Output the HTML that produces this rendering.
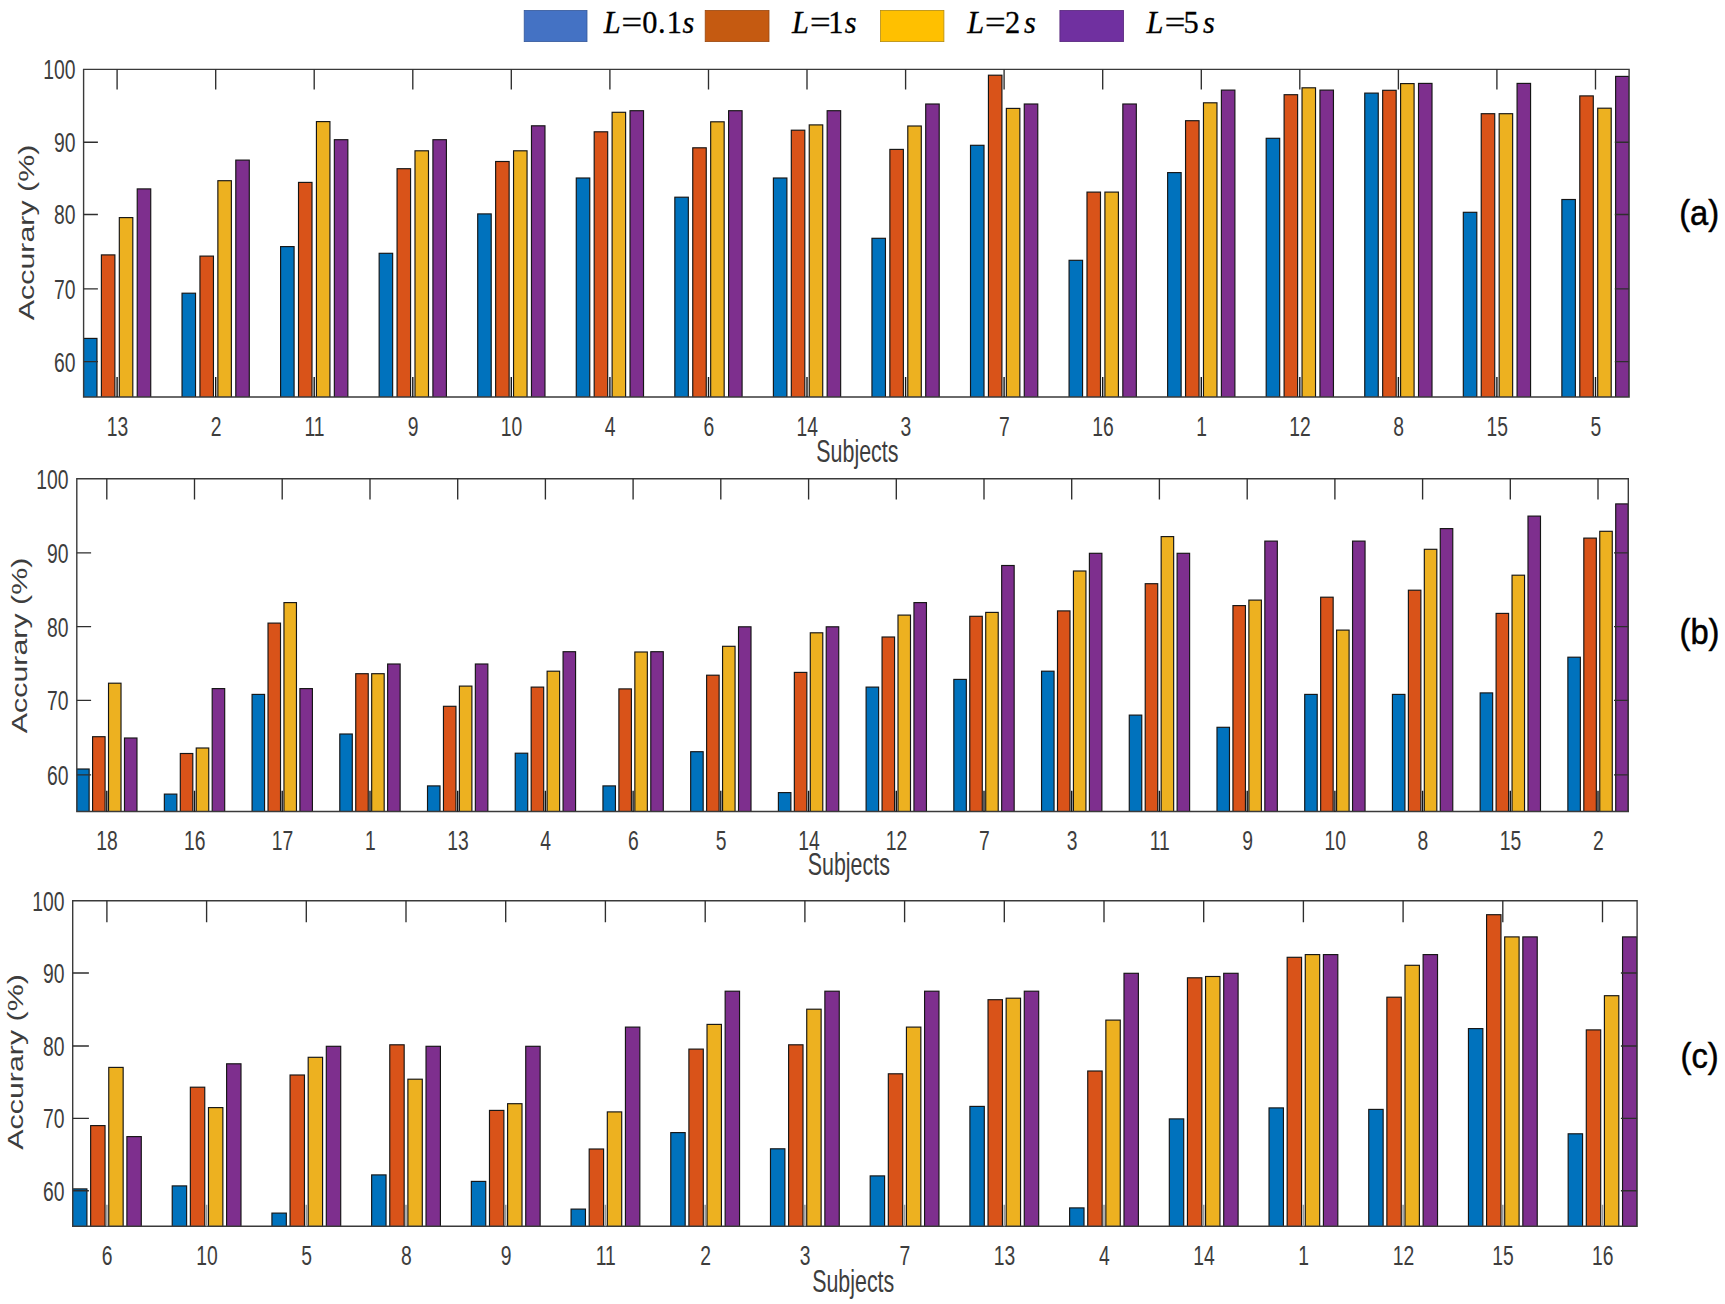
<!DOCTYPE html>
<html lang="en"><head><meta charset="utf-8"><title>Accuracy per subject</title>
<style>html,body{margin:0;padding:0;background:#fff}svg{display:block}.t{font-family:"Liberation Sans",Arial,Helvetica,sans-serif;fill:#3d3d3d}.s{font-family:"Liberation Serif","Times New Roman",Times,serif;fill:#000}.g{font-family:"Liberation Sans",Arial,sans-serif;fill:#000}</style></head><body>
<svg width="1725" height="1304" viewBox="0 0 1725 1304">
<rect width="1725" height="1304" fill="#fff"/>
<rect x="524.2" y="10.4" width="62.8" height="31.2" fill="#4472C4" stroke="#35589a" stroke-width="0.8"/>
<rect x="705.2" y="10.4" width="63.8" height="31.2" fill="#C55A11" stroke="#9a480f" stroke-width="0.8"/>
<rect x="880.6" y="10.4" width="63.3" height="31.2" fill="#FFC000" stroke="#b38a10" stroke-width="0.8"/>
<rect x="1059.9" y="10.4" width="63.7" height="31.2" fill="#7030A0" stroke="#56257b" stroke-width="0.8"/>
<text class="s" font-size="32.0" stroke="#000" stroke-width="0.3" transform="scale(0.95 1)" y="33.0"><tspan x="635.5" font-style="italic">L</tspan><tspan x="654.2" textLength="21.7" lengthAdjust="spacingAndGlyphs">=</tspan><tspan x="676.0">0</tspan><tspan x="692.7">.</tspan><tspan x="701.9">1</tspan><tspan x="718.5" font-style="italic">s</tspan></text>
<text class="s" font-size="32.0" stroke="#000" stroke-width="0.3" transform="scale(0.95 1)" y="33.0"><tspan x="833.6" font-style="italic">L</tspan><tspan x="852.7" textLength="21.7" lengthAdjust="spacingAndGlyphs">=</tspan><tspan x="871.8">1</tspan><tspan x="889.1" font-style="italic">s</tspan></text>
<text class="s" font-size="32.0" stroke="#000" stroke-width="0.3" transform="scale(0.95 1)" y="33.0"><tspan x="1018.2" font-style="italic">L</tspan><tspan x="1036.9" textLength="21.7" lengthAdjust="spacingAndGlyphs">=</tspan><tspan x="1057.8">2</tspan><tspan x="1078.0" font-style="italic">s</tspan></text>
<text class="s" font-size="32.0" stroke="#000" stroke-width="0.3" transform="scale(0.95 1)" y="33.0"><tspan x="1206.9" font-style="italic">L</tspan><tspan x="1226.0" textLength="21.7" lengthAdjust="spacingAndGlyphs">=</tspan><tspan x="1245.8">5</tspan><tspan x="1266.3" font-style="italic">s</tspan></text>
<clipPath id="cpa"><rect x="83.6" y="67.4" width="1545.5" height="329.6"/></clipPath>
<g clip-path="url(#cpa)" stroke="#151515" stroke-width="1.15">
<rect x="83.47" y="338.4" width="13.50" height="64.1" fill="#0072BD"/>
<rect x="101.39" y="254.9" width="13.50" height="147.6" fill="#D95319"/>
<rect x="119.31" y="217.6" width="13.50" height="184.9" fill="#EDB120"/>
<rect x="137.23" y="188.9" width="13.50" height="213.6" fill="#7E2F8E"/>
<rect x="182.03" y="293.2" width="13.50" height="109.3" fill="#0072BD"/>
<rect x="199.95" y="256.1" width="13.50" height="146.4" fill="#D95319"/>
<rect x="217.87" y="180.7" width="13.50" height="221.8" fill="#EDB120"/>
<rect x="235.79" y="160.1" width="13.50" height="242.4" fill="#7E2F8E"/>
<rect x="280.59" y="246.6" width="13.50" height="155.9" fill="#0072BD"/>
<rect x="298.51" y="182.4" width="13.50" height="220.1" fill="#D95319"/>
<rect x="316.43" y="121.6" width="13.50" height="280.9" fill="#EDB120"/>
<rect x="334.35" y="139.7" width="13.50" height="262.8" fill="#7E2F8E"/>
<rect x="379.15" y="253.3" width="13.50" height="149.2" fill="#0072BD"/>
<rect x="397.07" y="168.7" width="13.50" height="233.8" fill="#D95319"/>
<rect x="414.99" y="150.8" width="13.50" height="251.7" fill="#EDB120"/>
<rect x="432.91" y="139.7" width="13.50" height="262.8" fill="#7E2F8E"/>
<rect x="477.71" y="213.9" width="13.50" height="188.6" fill="#0072BD"/>
<rect x="495.63" y="161.5" width="13.50" height="241.0" fill="#D95319"/>
<rect x="513.55" y="150.8" width="13.50" height="251.7" fill="#EDB120"/>
<rect x="531.47" y="125.8" width="13.50" height="276.7" fill="#7E2F8E"/>
<rect x="576.27" y="178.0" width="13.50" height="224.5" fill="#0072BD"/>
<rect x="594.19" y="131.8" width="13.50" height="270.7" fill="#D95319"/>
<rect x="612.11" y="112.3" width="13.50" height="290.2" fill="#EDB120"/>
<rect x="630.03" y="110.7" width="13.50" height="291.8" fill="#7E2F8E"/>
<rect x="674.83" y="197.2" width="13.50" height="205.3" fill="#0072BD"/>
<rect x="692.75" y="147.8" width="13.50" height="254.7" fill="#D95319"/>
<rect x="710.67" y="121.8" width="13.50" height="280.7" fill="#EDB120"/>
<rect x="728.59" y="110.7" width="13.50" height="291.8" fill="#7E2F8E"/>
<rect x="773.39" y="178.0" width="13.50" height="224.5" fill="#0072BD"/>
<rect x="791.31" y="130.2" width="13.50" height="272.3" fill="#D95319"/>
<rect x="809.23" y="124.9" width="13.50" height="277.6" fill="#EDB120"/>
<rect x="827.15" y="110.7" width="13.50" height="291.8" fill="#7E2F8E"/>
<rect x="871.95" y="238.3" width="13.50" height="164.2" fill="#0072BD"/>
<rect x="889.87" y="149.4" width="13.50" height="253.1" fill="#D95319"/>
<rect x="907.79" y="126.0" width="13.50" height="276.5" fill="#EDB120"/>
<rect x="925.71" y="104.0" width="13.50" height="298.5" fill="#7E2F8E"/>
<rect x="970.51" y="145.3" width="13.50" height="257.2" fill="#0072BD"/>
<rect x="988.43" y="75.2" width="13.50" height="327.3" fill="#D95319"/>
<rect x="1006.35" y="108.4" width="13.50" height="294.1" fill="#EDB120"/>
<rect x="1024.27" y="104.0" width="13.50" height="298.5" fill="#7E2F8E"/>
<rect x="1069.07" y="260.3" width="13.50" height="142.2" fill="#0072BD"/>
<rect x="1086.99" y="192.1" width="13.50" height="210.4" fill="#D95319"/>
<rect x="1104.91" y="192.1" width="13.50" height="210.4" fill="#EDB120"/>
<rect x="1122.83" y="104.0" width="13.50" height="298.5" fill="#7E2F8E"/>
<rect x="1167.63" y="172.6" width="13.50" height="229.9" fill="#0072BD"/>
<rect x="1185.55" y="120.7" width="13.50" height="281.8" fill="#D95319"/>
<rect x="1203.47" y="102.8" width="13.50" height="299.7" fill="#EDB120"/>
<rect x="1221.39" y="90.1" width="13.50" height="312.4" fill="#7E2F8E"/>
<rect x="1266.19" y="138.3" width="13.50" height="264.2" fill="#0072BD"/>
<rect x="1284.11" y="94.7" width="13.50" height="307.8" fill="#D95319"/>
<rect x="1302.03" y="87.8" width="13.50" height="314.7" fill="#EDB120"/>
<rect x="1319.95" y="90.1" width="13.50" height="312.4" fill="#7E2F8E"/>
<rect x="1364.75" y="93.1" width="13.50" height="309.4" fill="#0072BD"/>
<rect x="1382.67" y="90.3" width="13.50" height="312.2" fill="#D95319"/>
<rect x="1400.59" y="83.6" width="13.50" height="318.9" fill="#EDB120"/>
<rect x="1418.51" y="83.4" width="13.50" height="319.1" fill="#7E2F8E"/>
<rect x="1463.31" y="212.3" width="13.50" height="190.2" fill="#0072BD"/>
<rect x="1481.23" y="113.7" width="13.50" height="288.8" fill="#D95319"/>
<rect x="1499.15" y="113.7" width="13.50" height="288.8" fill="#EDB120"/>
<rect x="1517.07" y="83.4" width="13.50" height="319.1" fill="#7E2F8E"/>
<rect x="1561.87" y="199.5" width="13.50" height="203.0" fill="#0072BD"/>
<rect x="1579.79" y="95.9" width="13.50" height="306.6" fill="#D95319"/>
<rect x="1597.71" y="108.2" width="13.50" height="294.3" fill="#EDB120"/>
<rect x="1615.63" y="76.4" width="13.50" height="326.1" fill="#7E2F8E"/>
</g>
<path d="M83.6 69.4H1629.1V397.0H83.6Z" fill="none" stroke="#3a3a3a" stroke-width="1.4"/>
<path d="M117.1 69.4v20.0M215.7 69.4v20.0M314.2 69.4v20.0M412.8 69.4v20.0M511.3 69.4v20.0M609.9 69.4v20.0M708.5 69.4v20.0M807.0 69.4v20.0M905.6 69.4v20.0M1004.1 69.4v20.0M1102.7 69.4v20.0M1201.3 69.4v20.0M1299.8 69.4v20.0M1398.4 69.4v20.0M1496.9 69.4v20.0M1595.5 69.4v20.0M83.6 142.2h14.3M1629.1 142.2h-14.3M83.6 214.5h14.3M1629.1 214.5h-14.3M83.6 288.8h14.3M1629.1 288.8h-14.3M83.6 361.6h14.3M1629.1 361.6h-14.3" fill="none" stroke="#2e2e2e" stroke-width="1.35"/>
<path d="M117.1 397.0v-20.0M215.7 397.0v-20.0M314.2 397.0v-20.0M412.8 397.0v-20.0M511.3 397.0v-20.0M609.9 397.0v-20.0M708.5 397.0v-20.0M807.0 397.0v-20.0M905.6 397.0v-20.0M1004.1 397.0v-20.0M1102.7 397.0v-20.0M1201.3 397.0v-20.0M1299.8 397.0v-20.0M1398.4 397.0v-20.0M1496.9 397.0v-20.0M1595.5 397.0v-20.0" fill="none" stroke="#161616" stroke-width="1.4"/>
<text class="t" font-size="27.6" text-anchor="end" transform="translate(75.4 79.3) scale(0.700 1)">100</text>
<text class="t" font-size="27.6" text-anchor="end" transform="translate(75.4 152.1) scale(0.700 1)">90</text>
<text class="t" font-size="27.6" text-anchor="end" transform="translate(75.4 224.4) scale(0.700 1)">80</text>
<text class="t" font-size="27.6" text-anchor="end" transform="translate(75.4 298.7) scale(0.700 1)">70</text>
<text class="t" font-size="27.6" text-anchor="end" transform="translate(75.4 371.5) scale(0.700 1)">60</text>
<text class="t" font-size="27.6" text-anchor="middle" transform="translate(117.4 435.6) scale(0.700 1)">13</text>
<text class="t" font-size="27.6" text-anchor="middle" transform="translate(216.0 435.6) scale(0.700 1)">2</text>
<text class="t" font-size="27.6" text-anchor="middle" transform="translate(314.5 435.6) scale(0.700 1)">11</text>
<text class="t" font-size="27.6" text-anchor="middle" transform="translate(413.1 435.6) scale(0.700 1)">9</text>
<text class="t" font-size="27.6" text-anchor="middle" transform="translate(511.6 435.6) scale(0.700 1)">10</text>
<text class="t" font-size="27.6" text-anchor="middle" transform="translate(610.2 435.6) scale(0.700 1)">4</text>
<text class="t" font-size="27.6" text-anchor="middle" transform="translate(708.8 435.6) scale(0.700 1)">6</text>
<text class="t" font-size="27.6" text-anchor="middle" transform="translate(807.3 435.6) scale(0.700 1)">14</text>
<text class="t" font-size="27.6" text-anchor="middle" transform="translate(905.9 435.6) scale(0.700 1)">3</text>
<text class="t" font-size="27.6" text-anchor="middle" transform="translate(1004.4 435.6) scale(0.700 1)">7</text>
<text class="t" font-size="27.6" text-anchor="middle" transform="translate(1103.0 435.6) scale(0.700 1)">16</text>
<text class="t" font-size="27.6" text-anchor="middle" transform="translate(1201.6 435.6) scale(0.700 1)">1</text>
<text class="t" font-size="27.6" text-anchor="middle" transform="translate(1300.1 435.6) scale(0.700 1)">12</text>
<text class="t" font-size="27.6" text-anchor="middle" transform="translate(1398.7 435.6) scale(0.700 1)">8</text>
<text class="t" font-size="27.6" text-anchor="middle" transform="translate(1497.2 435.6) scale(0.700 1)">15</text>
<text class="t" font-size="27.6" text-anchor="middle" transform="translate(1595.8 435.6) scale(0.700 1)">5</text>
<text class="t" font-size="30.6" text-anchor="middle" transform="translate(857.4 461.8) scale(0.700 1)">Subjects</text>
<text class="t" font-size="30.4" text-anchor="middle" transform="translate(33.7 232.5) scale(0.700 1) rotate(-90)">Accurary (%)</text>
<text class="g" font-size="35.4" text-anchor="middle" stroke="#000" stroke-width="0.5" transform="translate(1699.2 224.8) scale(0.925 1)">(a)</text>
<clipPath id="cpb"><rect x="76.8" y="476.8" width="1551.5" height="334.7"/></clipPath>
<g clip-path="url(#cpb)" stroke="#151515" stroke-width="1.15">
<rect x="76.63" y="769.0" width="12.50" height="48.0" fill="#0072BD"/>
<rect x="92.58" y="736.7" width="12.50" height="80.3" fill="#D95319"/>
<rect x="108.52" y="683.2" width="12.50" height="133.8" fill="#EDB120"/>
<rect x="124.47" y="738.0" width="12.50" height="79.0" fill="#7E2F8E"/>
<rect x="164.35" y="794.1" width="12.50" height="22.9" fill="#0072BD"/>
<rect x="180.30" y="753.5" width="12.50" height="63.5" fill="#D95319"/>
<rect x="196.24" y="748.0" width="12.50" height="69.0" fill="#EDB120"/>
<rect x="212.19" y="688.6" width="12.50" height="128.4" fill="#7E2F8E"/>
<rect x="252.07" y="694.4" width="12.50" height="122.6" fill="#0072BD"/>
<rect x="268.02" y="623.1" width="12.50" height="193.9" fill="#D95319"/>
<rect x="283.96" y="602.6" width="12.50" height="214.4" fill="#EDB120"/>
<rect x="299.91" y="688.6" width="12.50" height="128.4" fill="#7E2F8E"/>
<rect x="339.79" y="734.0" width="12.50" height="83.0" fill="#0072BD"/>
<rect x="355.74" y="673.7" width="12.50" height="143.3" fill="#D95319"/>
<rect x="371.68" y="673.7" width="12.50" height="143.3" fill="#EDB120"/>
<rect x="387.63" y="664.0" width="12.50" height="153.0" fill="#7E2F8E"/>
<rect x="427.51" y="785.9" width="12.50" height="31.1" fill="#0072BD"/>
<rect x="443.46" y="706.3" width="12.50" height="110.7" fill="#D95319"/>
<rect x="459.40" y="686.1" width="12.50" height="130.9" fill="#EDB120"/>
<rect x="475.35" y="664.0" width="12.50" height="153.0" fill="#7E2F8E"/>
<rect x="515.23" y="753.2" width="12.50" height="63.8" fill="#0072BD"/>
<rect x="531.18" y="687.1" width="12.50" height="129.9" fill="#D95319"/>
<rect x="547.12" y="671.2" width="12.50" height="145.8" fill="#EDB120"/>
<rect x="563.07" y="651.7" width="12.50" height="165.3" fill="#7E2F8E"/>
<rect x="602.95" y="785.9" width="12.50" height="31.1" fill="#0072BD"/>
<rect x="618.90" y="688.9" width="12.50" height="128.1" fill="#D95319"/>
<rect x="634.84" y="652.0" width="12.50" height="165.0" fill="#EDB120"/>
<rect x="650.79" y="651.7" width="12.50" height="165.3" fill="#7E2F8E"/>
<rect x="690.67" y="751.7" width="12.50" height="65.3" fill="#0072BD"/>
<rect x="706.62" y="675.2" width="12.50" height="141.8" fill="#D95319"/>
<rect x="722.56" y="646.3" width="12.50" height="170.7" fill="#EDB120"/>
<rect x="738.51" y="626.8" width="12.50" height="190.2" fill="#7E2F8E"/>
<rect x="778.39" y="792.6" width="12.50" height="24.4" fill="#0072BD"/>
<rect x="794.34" y="672.4" width="12.50" height="144.6" fill="#D95319"/>
<rect x="810.28" y="632.8" width="12.50" height="184.2" fill="#EDB120"/>
<rect x="826.23" y="626.8" width="12.50" height="190.2" fill="#7E2F8E"/>
<rect x="866.11" y="687.1" width="12.50" height="129.9" fill="#0072BD"/>
<rect x="882.06" y="637.0" width="12.50" height="180.0" fill="#D95319"/>
<rect x="898.00" y="615.1" width="12.50" height="201.9" fill="#EDB120"/>
<rect x="913.95" y="602.6" width="12.50" height="214.4" fill="#7E2F8E"/>
<rect x="953.83" y="679.4" width="12.50" height="137.6" fill="#0072BD"/>
<rect x="969.78" y="616.3" width="12.50" height="200.7" fill="#D95319"/>
<rect x="985.72" y="612.4" width="12.50" height="204.6" fill="#EDB120"/>
<rect x="1001.67" y="565.5" width="12.50" height="251.5" fill="#7E2F8E"/>
<rect x="1041.55" y="671.2" width="12.50" height="145.8" fill="#0072BD"/>
<rect x="1057.50" y="610.9" width="12.50" height="206.1" fill="#D95319"/>
<rect x="1073.44" y="571.0" width="12.50" height="246.0" fill="#EDB120"/>
<rect x="1089.39" y="553.3" width="12.50" height="263.7" fill="#7E2F8E"/>
<rect x="1129.27" y="715.1" width="12.50" height="101.9" fill="#0072BD"/>
<rect x="1145.22" y="583.7" width="12.50" height="233.3" fill="#D95319"/>
<rect x="1161.16" y="536.6" width="12.50" height="280.4" fill="#EDB120"/>
<rect x="1177.11" y="553.3" width="12.50" height="263.7" fill="#7E2F8E"/>
<rect x="1216.99" y="727.3" width="12.50" height="89.7" fill="#0072BD"/>
<rect x="1232.94" y="605.6" width="12.50" height="211.4" fill="#D95319"/>
<rect x="1248.88" y="600.1" width="12.50" height="216.9" fill="#EDB120"/>
<rect x="1264.83" y="541.1" width="12.50" height="275.9" fill="#7E2F8E"/>
<rect x="1304.71" y="694.4" width="12.50" height="122.6" fill="#0072BD"/>
<rect x="1320.66" y="597.2" width="12.50" height="219.8" fill="#D95319"/>
<rect x="1336.60" y="630.1" width="12.50" height="186.9" fill="#EDB120"/>
<rect x="1352.55" y="541.1" width="12.50" height="275.9" fill="#7E2F8E"/>
<rect x="1392.43" y="694.4" width="12.50" height="122.6" fill="#0072BD"/>
<rect x="1408.38" y="590.2" width="12.50" height="226.8" fill="#D95319"/>
<rect x="1424.32" y="549.3" width="12.50" height="267.7" fill="#EDB120"/>
<rect x="1440.27" y="528.6" width="12.50" height="288.4" fill="#7E2F8E"/>
<rect x="1480.15" y="692.9" width="12.50" height="124.1" fill="#0072BD"/>
<rect x="1496.10" y="613.4" width="12.50" height="203.6" fill="#D95319"/>
<rect x="1512.04" y="575.2" width="12.50" height="241.8" fill="#EDB120"/>
<rect x="1527.99" y="516.1" width="12.50" height="300.9" fill="#7E2F8E"/>
<rect x="1567.87" y="657.2" width="12.50" height="159.8" fill="#0072BD"/>
<rect x="1583.82" y="538.1" width="12.50" height="278.9" fill="#D95319"/>
<rect x="1599.76" y="531.3" width="12.50" height="285.7" fill="#EDB120"/>
<rect x="1615.71" y="503.9" width="12.50" height="313.1" fill="#7E2F8E"/>
</g>
<path d="M76.8 478.8H1628.3V811.5H76.8Z" fill="none" stroke="#3a3a3a" stroke-width="1.4"/>
<path d="M106.8 478.8v20.8M194.5 478.8v20.8M282.2 478.8v20.8M370.0 478.8v20.8M457.7 478.8v20.8M545.4 478.8v20.8M633.1 478.8v20.8M720.8 478.8v20.8M808.6 478.8v20.8M896.3 478.8v20.8M984.0 478.8v20.8M1071.7 478.8v20.8M1159.4 478.8v20.8M1247.2 478.8v20.8M1334.9 478.8v20.8M1422.6 478.8v20.8M1510.3 478.8v20.8M1598.0 478.8v20.8M76.8 552.8h14.3M1628.3 552.8h-14.3M76.8 626.6h14.3M1628.3 626.6h-14.3M76.8 700.4h14.3M1628.3 700.4h-14.3M76.8 774.9h14.3M1628.3 774.9h-14.3" fill="none" stroke="#2e2e2e" stroke-width="1.35"/>
<path d="M106.8 811.5v-20.8M194.5 811.5v-20.8M282.2 811.5v-20.8M370.0 811.5v-20.8M457.7 811.5v-20.8M545.4 811.5v-20.8M633.1 811.5v-20.8M720.8 811.5v-20.8M808.6 811.5v-20.8M896.3 811.5v-20.8M984.0 811.5v-20.8M1071.7 811.5v-20.8M1159.4 811.5v-20.8M1247.2 811.5v-20.8M1334.9 811.5v-20.8M1422.6 811.5v-20.8M1510.3 811.5v-20.8M1598.0 811.5v-20.8" fill="none" stroke="#161616" stroke-width="1.4"/>
<text class="t" font-size="27.6" text-anchor="end" transform="translate(68.4 488.7) scale(0.700 1)">100</text>
<text class="t" font-size="27.6" text-anchor="end" transform="translate(68.4 562.7) scale(0.700 1)">90</text>
<text class="t" font-size="27.6" text-anchor="end" transform="translate(68.4 636.5) scale(0.700 1)">80</text>
<text class="t" font-size="27.6" text-anchor="end" transform="translate(68.4 710.3) scale(0.700 1)">70</text>
<text class="t" font-size="27.6" text-anchor="end" transform="translate(68.4 784.8) scale(0.700 1)">60</text>
<text class="t" font-size="27.6" text-anchor="middle" transform="translate(107.1 850.0) scale(0.700 1)">18</text>
<text class="t" font-size="27.6" text-anchor="middle" transform="translate(194.8 850.0) scale(0.700 1)">16</text>
<text class="t" font-size="27.6" text-anchor="middle" transform="translate(282.5 850.0) scale(0.700 1)">17</text>
<text class="t" font-size="27.6" text-anchor="middle" transform="translate(370.3 850.0) scale(0.700 1)">1</text>
<text class="t" font-size="27.6" text-anchor="middle" transform="translate(458.0 850.0) scale(0.700 1)">13</text>
<text class="t" font-size="27.6" text-anchor="middle" transform="translate(545.7 850.0) scale(0.700 1)">4</text>
<text class="t" font-size="27.6" text-anchor="middle" transform="translate(633.4 850.0) scale(0.700 1)">6</text>
<text class="t" font-size="27.6" text-anchor="middle" transform="translate(721.1 850.0) scale(0.700 1)">5</text>
<text class="t" font-size="27.6" text-anchor="middle" transform="translate(808.9 850.0) scale(0.700 1)">14</text>
<text class="t" font-size="27.6" text-anchor="middle" transform="translate(896.6 850.0) scale(0.700 1)">12</text>
<text class="t" font-size="27.6" text-anchor="middle" transform="translate(984.3 850.0) scale(0.700 1)">7</text>
<text class="t" font-size="27.6" text-anchor="middle" transform="translate(1072.0 850.0) scale(0.700 1)">3</text>
<text class="t" font-size="27.6" text-anchor="middle" transform="translate(1159.7 850.0) scale(0.700 1)">11</text>
<text class="t" font-size="27.6" text-anchor="middle" transform="translate(1247.5 850.0) scale(0.700 1)">9</text>
<text class="t" font-size="27.6" text-anchor="middle" transform="translate(1335.2 850.0) scale(0.700 1)">10</text>
<text class="t" font-size="27.6" text-anchor="middle" transform="translate(1422.9 850.0) scale(0.700 1)">8</text>
<text class="t" font-size="27.6" text-anchor="middle" transform="translate(1510.6 850.0) scale(0.700 1)">15</text>
<text class="t" font-size="27.6" text-anchor="middle" transform="translate(1598.3 850.0) scale(0.700 1)">2</text>
<text class="t" font-size="30.6" text-anchor="middle" transform="translate(848.8 874.8) scale(0.700 1)">Subjects</text>
<text class="t" font-size="30.4" text-anchor="middle" transform="translate(27.0 645.5) scale(0.700 1) rotate(-90)">Accurary (%)</text>
<text class="g" font-size="35.4" text-anchor="middle" stroke="#000" stroke-width="0.5" transform="translate(1699.5 644.4) scale(0.925 1)">(b)</text>
<clipPath id="cpc"><rect x="72.7" y="898.8" width="1564.4" height="327.4"/></clipPath>
<g clip-path="url(#cpc)" stroke="#151515" stroke-width="1.15">
<rect x="72.51" y="1188.9" width="14.40" height="42.8" fill="#0072BD"/>
<rect x="90.64" y="1125.6" width="14.40" height="106.1" fill="#D95319"/>
<rect x="108.76" y="1067.4" width="14.40" height="164.3" fill="#EDB120"/>
<rect x="126.89" y="1136.6" width="14.40" height="95.1" fill="#7E2F8E"/>
<rect x="172.22" y="1185.9" width="14.40" height="45.8" fill="#0072BD"/>
<rect x="190.35" y="1087.2" width="14.40" height="144.5" fill="#D95319"/>
<rect x="208.47" y="1107.6" width="14.40" height="124.1" fill="#EDB120"/>
<rect x="226.60" y="1063.8" width="14.40" height="167.9" fill="#7E2F8E"/>
<rect x="271.93" y="1213.1" width="14.40" height="18.6" fill="#0072BD"/>
<rect x="290.06" y="1075.0" width="14.40" height="156.7" fill="#D95319"/>
<rect x="308.18" y="1057.3" width="14.40" height="174.4" fill="#EDB120"/>
<rect x="326.31" y="1046.3" width="14.40" height="185.4" fill="#7E2F8E"/>
<rect x="371.64" y="1174.9" width="14.40" height="56.8" fill="#0072BD"/>
<rect x="389.77" y="1044.8" width="14.40" height="186.9" fill="#D95319"/>
<rect x="407.89" y="1079.2" width="14.40" height="152.5" fill="#EDB120"/>
<rect x="426.02" y="1046.3" width="14.40" height="185.4" fill="#7E2F8E"/>
<rect x="471.35" y="1181.4" width="14.40" height="50.3" fill="#0072BD"/>
<rect x="489.48" y="1110.4" width="14.40" height="121.3" fill="#D95319"/>
<rect x="507.60" y="1103.7" width="14.40" height="128.0" fill="#EDB120"/>
<rect x="525.73" y="1046.3" width="14.40" height="185.4" fill="#7E2F8E"/>
<rect x="571.06" y="1209.1" width="14.40" height="22.6" fill="#0072BD"/>
<rect x="589.19" y="1149.0" width="14.40" height="82.7" fill="#D95319"/>
<rect x="607.31" y="1111.9" width="14.40" height="119.8" fill="#EDB120"/>
<rect x="625.44" y="1027.1" width="14.40" height="204.6" fill="#7E2F8E"/>
<rect x="670.77" y="1132.6" width="14.40" height="99.1" fill="#0072BD"/>
<rect x="688.90" y="1049.1" width="14.40" height="182.6" fill="#D95319"/>
<rect x="707.02" y="1024.4" width="14.40" height="207.3" fill="#EDB120"/>
<rect x="725.15" y="991.2" width="14.40" height="240.5" fill="#7E2F8E"/>
<rect x="770.48" y="1148.8" width="14.40" height="82.9" fill="#0072BD"/>
<rect x="788.61" y="1044.8" width="14.40" height="186.9" fill="#D95319"/>
<rect x="806.73" y="1009.2" width="14.40" height="222.5" fill="#EDB120"/>
<rect x="824.86" y="991.2" width="14.40" height="240.5" fill="#7E2F8E"/>
<rect x="870.19" y="1175.9" width="14.40" height="55.8" fill="#0072BD"/>
<rect x="888.32" y="1073.8" width="14.40" height="157.9" fill="#D95319"/>
<rect x="906.44" y="1027.1" width="14.40" height="204.6" fill="#EDB120"/>
<rect x="924.57" y="991.2" width="14.40" height="240.5" fill="#7E2F8E"/>
<rect x="969.90" y="1106.4" width="14.40" height="125.3" fill="#0072BD"/>
<rect x="988.03" y="999.7" width="14.40" height="232.0" fill="#D95319"/>
<rect x="1006.15" y="998.2" width="14.40" height="233.5" fill="#EDB120"/>
<rect x="1024.28" y="991.2" width="14.40" height="240.5" fill="#7E2F8E"/>
<rect x="1069.61" y="1207.9" width="14.40" height="23.8" fill="#0072BD"/>
<rect x="1087.74" y="1071.0" width="14.40" height="160.7" fill="#D95319"/>
<rect x="1105.86" y="1020.1" width="14.40" height="211.6" fill="#EDB120"/>
<rect x="1123.99" y="973.3" width="14.40" height="258.4" fill="#7E2F8E"/>
<rect x="1169.32" y="1118.9" width="14.40" height="112.8" fill="#0072BD"/>
<rect x="1187.45" y="977.8" width="14.40" height="253.9" fill="#D95319"/>
<rect x="1205.57" y="976.5" width="14.40" height="255.2" fill="#EDB120"/>
<rect x="1223.70" y="973.3" width="14.40" height="258.4" fill="#7E2F8E"/>
<rect x="1269.03" y="1107.9" width="14.40" height="123.8" fill="#0072BD"/>
<rect x="1287.16" y="957.3" width="14.40" height="274.4" fill="#D95319"/>
<rect x="1305.28" y="954.6" width="14.40" height="277.1" fill="#EDB120"/>
<rect x="1323.41" y="954.6" width="14.40" height="277.1" fill="#7E2F8E"/>
<rect x="1368.74" y="1109.4" width="14.40" height="122.3" fill="#0072BD"/>
<rect x="1386.87" y="997.2" width="14.40" height="234.5" fill="#D95319"/>
<rect x="1404.99" y="965.3" width="14.40" height="266.4" fill="#EDB120"/>
<rect x="1423.12" y="954.6" width="14.40" height="277.1" fill="#7E2F8E"/>
<rect x="1468.45" y="1028.6" width="14.40" height="203.1" fill="#0072BD"/>
<rect x="1486.58" y="914.7" width="14.40" height="317.0" fill="#D95319"/>
<rect x="1504.70" y="936.9" width="14.40" height="294.8" fill="#EDB120"/>
<rect x="1522.83" y="936.9" width="14.40" height="294.8" fill="#7E2F8E"/>
<rect x="1568.16" y="1133.8" width="14.40" height="97.9" fill="#0072BD"/>
<rect x="1586.29" y="1029.9" width="14.40" height="201.8" fill="#D95319"/>
<rect x="1604.41" y="995.7" width="14.40" height="236.0" fill="#EDB120"/>
<rect x="1622.54" y="936.9" width="14.40" height="294.8" fill="#7E2F8E"/>
</g>
<path d="M72.7 900.8H1637.1V1226.2H72.7Z" fill="none" stroke="#3a3a3a" stroke-width="1.4"/>
<path d="M106.9 900.8v21.4M206.6 900.8v21.4M306.3 900.8v21.4M406.0 900.8v21.4M505.7 900.8v21.4M605.4 900.8v21.4M705.2 900.8v21.4M804.9 900.8v21.4M904.6 900.8v21.4M1004.3 900.8v21.4M1104.0 900.8v21.4M1203.7 900.8v21.4M1303.4 900.8v21.4M1403.1 900.8v21.4M1502.8 900.8v21.4M1602.5 900.8v21.4M72.7 973.0h16.2M1637.1 973.0h-16.2M72.7 1046.0h16.2M1637.1 1046.0h-16.2M72.7 1118.4h16.2M1637.1 1118.4h-16.2M72.7 1190.7h16.2M1637.1 1190.7h-16.2" fill="none" stroke="#2e2e2e" stroke-width="1.35"/>
<path d="M106.9 1226.2v-21.4M206.6 1226.2v-21.4M306.3 1226.2v-21.4M406.0 1226.2v-21.4M505.7 1226.2v-21.4M605.4 1226.2v-21.4M705.2 1226.2v-21.4M804.9 1226.2v-21.4M904.6 1226.2v-21.4M1004.3 1226.2v-21.4M1104.0 1226.2v-21.4M1203.7 1226.2v-21.4M1303.4 1226.2v-21.4M1403.1 1226.2v-21.4M1502.8 1226.2v-21.4M1602.5 1226.2v-21.4" fill="none" stroke="#9a9a9a" stroke-width="1.6"/>
<text class="t" font-size="27.6" text-anchor="end" transform="translate(64.4 910.7) scale(0.700 1)">100</text>
<text class="t" font-size="27.6" text-anchor="end" transform="translate(64.4 982.9) scale(0.700 1)">90</text>
<text class="t" font-size="27.6" text-anchor="end" transform="translate(64.4 1055.9) scale(0.700 1)">80</text>
<text class="t" font-size="27.6" text-anchor="end" transform="translate(64.4 1128.3) scale(0.700 1)">70</text>
<text class="t" font-size="27.6" text-anchor="end" transform="translate(64.4 1200.6) scale(0.700 1)">60</text>
<text class="t" font-size="27.6" text-anchor="middle" transform="translate(107.2 1265.3) scale(0.700 1)">6</text>
<text class="t" font-size="27.6" text-anchor="middle" transform="translate(206.9 1265.3) scale(0.700 1)">10</text>
<text class="t" font-size="27.6" text-anchor="middle" transform="translate(306.6 1265.3) scale(0.700 1)">5</text>
<text class="t" font-size="27.6" text-anchor="middle" transform="translate(406.3 1265.3) scale(0.700 1)">8</text>
<text class="t" font-size="27.6" text-anchor="middle" transform="translate(506.0 1265.3) scale(0.700 1)">9</text>
<text class="t" font-size="27.6" text-anchor="middle" transform="translate(605.7 1265.3) scale(0.700 1)">11</text>
<text class="t" font-size="27.6" text-anchor="middle" transform="translate(705.5 1265.3) scale(0.700 1)">2</text>
<text class="t" font-size="27.6" text-anchor="middle" transform="translate(805.2 1265.3) scale(0.700 1)">3</text>
<text class="t" font-size="27.6" text-anchor="middle" transform="translate(904.9 1265.3) scale(0.700 1)">7</text>
<text class="t" font-size="27.6" text-anchor="middle" transform="translate(1004.6 1265.3) scale(0.700 1)">13</text>
<text class="t" font-size="27.6" text-anchor="middle" transform="translate(1104.3 1265.3) scale(0.700 1)">4</text>
<text class="t" font-size="27.6" text-anchor="middle" transform="translate(1204.0 1265.3) scale(0.700 1)">14</text>
<text class="t" font-size="27.6" text-anchor="middle" transform="translate(1303.7 1265.3) scale(0.700 1)">1</text>
<text class="t" font-size="27.6" text-anchor="middle" transform="translate(1403.4 1265.3) scale(0.700 1)">12</text>
<text class="t" font-size="27.6" text-anchor="middle" transform="translate(1503.1 1265.3) scale(0.700 1)">15</text>
<text class="t" font-size="27.6" text-anchor="middle" transform="translate(1602.8 1265.3) scale(0.700 1)">16</text>
<text class="t" font-size="30.6" text-anchor="middle" transform="translate(853.2 1291.7) scale(0.700 1)">Subjects</text>
<text class="t" font-size="30.4" text-anchor="middle" transform="translate(23.2 1062.0) scale(0.700 1) rotate(-90)">Accurary (%)</text>
<text class="g" font-size="35.4" text-anchor="middle" stroke="#000" stroke-width="0.5" transform="translate(1699.7 1067.7) scale(0.925 1)">(c)</text>
</svg></body></html>
